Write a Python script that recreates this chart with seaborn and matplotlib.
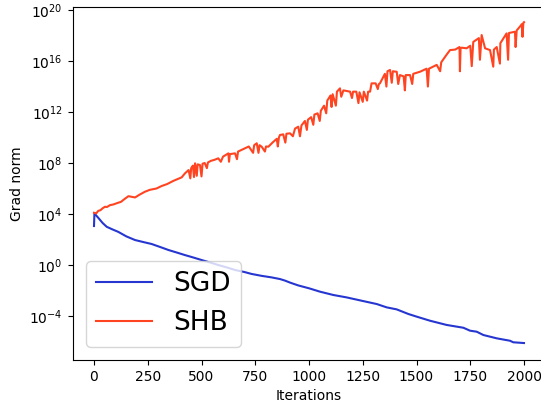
import numpy as np
import pandas as pd
import matplotlib
matplotlib.use("Agg")
import matplotlib.pyplot as plt
import matplotlib.ticker as mticker
import seaborn as sns

# SGD: iteration, log10(grad norm)
sgd_iter = [0, 2, 20, 40, 59, 85, 113, 150, 191, 230, 268, 310, 346, 385, 423, 460, 501,
            540, 578, 620, 656, 700, 733, 780, 826, 865, 888, 912, 950, 1001, 1051, 1113,
            1175, 1250, 1315, 1361, 1408, 1462, 1501, 1563, 1640, 1718, 1749, 1780, 1811,
            1873, 1935, 1950, 2000]
sgd_log = [3.06, 4.05, 3.7, 3.3, 3.0, 2.8, 2.6, 2.25, 1.96, 1.8, 1.65, 1.4, 1.18, 0.98, 0.78,
           0.6, 0.39, 0.2, 0.0, -0.2, -0.39, -0.55, -0.7, -0.85, -0.97, -1.1, -1.22, -1.38,
           -1.6, -1.83, -2.09, -2.35, -2.54, -2.82, -3.06, -3.32, -3.48, -3.84, -4.05, -4.37,
           -4.7, -4.92, -5.15, -5.23, -5.49, -5.75, -5.94, -6.06, -6.12]

# SHB: iteration, log10(grad norm)
shb_iter = [0, 10, 20, 30, 40, 51, 60, 75, 90, 113, 125, 140, 160, 175, 191, 210, 237, 260,
            290, 315, 340, 369, 390, 408, 423, 440, 448, 452, 460, 465, 470, 478, 482, 493,
            500, 505, 515, 525, 530, 545, 560, 578, 590, 600, 625, 628, 632, 656, 665, 670,
            702, 720, 740, 745, 757, 765, 770, 780, 795, 800, 811, 830, 850, 855, 860, 865,
            880, 890, 895, 912, 925, 935, 950, 958, 965, 981, 990, 995, 1010, 1020, 1025,
            1040, 1050, 1055, 1070, 1080, 1085, 1100, 1105, 1110, 1125, 1130, 1144, 1150,
            1160, 1191, 1200, 1205, 1220, 1230, 1235, 1250, 1255, 1270, 1275, 1284, 1291,
            1310, 1320, 1325, 1330, 1353, 1360, 1365, 1377, 1385, 1390, 1408, 1415, 1423,
            1440, 1446, 1450, 1470, 1480, 1485, 1516, 1547, 1553, 1558, 1594, 1610, 1615,
            1640, 1656, 1680, 1700, 1702, 1705, 1710, 1733, 1750, 1757, 1764, 1790, 1795,
            1803, 1819, 1842, 1857, 1860, 1873, 1888, 1890, 1919, 1926, 1930, 1958, 1961,
            1966, 1981, 1990, 1993, 1997, 2000]
shb_log = [4.1, 4.05, 4.25, 4.3, 4.45, 4.57, 4.55, 4.7, 4.75, 4.89, 4.95, 5.15, 5.4, 5.35,
           5.3, 5.5, 5.75, 5.9, 6.0, 6.2, 6.35, 6.6, 6.75, 6.88, 7.19, 7.45, 6.8, 7.6, 7.8,
           6.9, 7.98, 7.0, 7.9, 7.84, 6.95, 7.95, 8.0, 7.6, 8.05, 8.18, 8.25, 8.37, 8.1, 8.5,
           8.76, 8.1, 8.7, 8.76, 8.3, 8.9, 9.15, 9.3, 8.8, 9.4, 9.55, 8.8, 9.4, 9.28, 8.9,
           9.3, 9.28, 9.6, 9.9, 9.3, 10.0, 10.2, 10.25, 9.6, 10.3, 10.33, 10.1, 10.7, 10.85,
           10.1, 10.95, 11.3, 10.6, 11.4, 11.6, 11.0, 11.8, 11.9, 11.3, 12.1, 12.5, 11.9,
           12.9, 13.3, 12.4, 13.4, 12.5, 13.6, 13.86, 13.2, 13.7, 13.6, 13.1, 13.6, 13.6,
           12.7, 13.55, 12.8, 13.6, 12.9, 13.6, 13.6, 14.25, 14.25, 13.8, 14.2, 14.25, 15.0,
           14.0, 15.2, 15.3, 14.3, 15.2, 15.16, 14.2, 14.9, 14.8, 13.7, 14.9, 14.9, 14.2,
           15.0, 15.16, 15.4, 14.0, 15.4, 15.7, 15.2, 15.9, 16.5, 16.86, 16.9, 17.1, 15.2,
           17.0, 17.05, 17.0, 17.2, 15.6, 17.5, 17.8, 16.1, 18.04, 17.0, 16.86, 15.56, 16.9,
           17.1, 15.8, 17.4, 18.17, 16.1, 18.2, 18.3, 17.1, 18.4, 18.7, 18.9, 17.9, 19.0, 19.05]

sgd_color = "#2636d0"
shb_color = "#ff4422"

df = pd.concat([
    pd.DataFrame({"Iterations": sgd_iter, "Grad norm": 10.0 ** np.array(sgd_log), "method": "SGD"}),
    pd.DataFrame({"Iterations": shb_iter, "Grad norm": 10.0 ** np.array(shb_log), "method": "SHB"}),
])

fig = plt.figure(figsize=(5.41, 4.04), dpi=100)
ax = fig.add_axes([72.5 / 541, 44 / 404, 473 / 541, 353 / 404])
sns.lineplot(data=df, x="Iterations", y="Grad norm", hue="method",
             palette={"SGD": sgd_color, "SHB": shb_color}, estimator=None,
             linewidth=1.5, ax=ax)
ax.set_yscale("log")
ax.set_xlim(-100, 2100)
ax.set_ylim(10 ** -7.45, 10 ** 20.24)
ax.set_yticks([1e-4, 1e0, 1e4, 1e8, 1e12, 1e16, 1e20])
ax.yaxis.set_minor_locator(mticker.NullLocator())
ax.set_xticks([0, 250, 500, 750, 1000, 1250, 1500, 1750, 2000])
ax.set_xlabel("Iterations")
ax.set_ylabel("Grad norm")
handles, labels = ax.get_legend_handles_labels()
ax.legend(handles, labels, fontsize=19, loc="lower left", handlelength=2.1)
fig.savefig("out.png", dpi=100)
